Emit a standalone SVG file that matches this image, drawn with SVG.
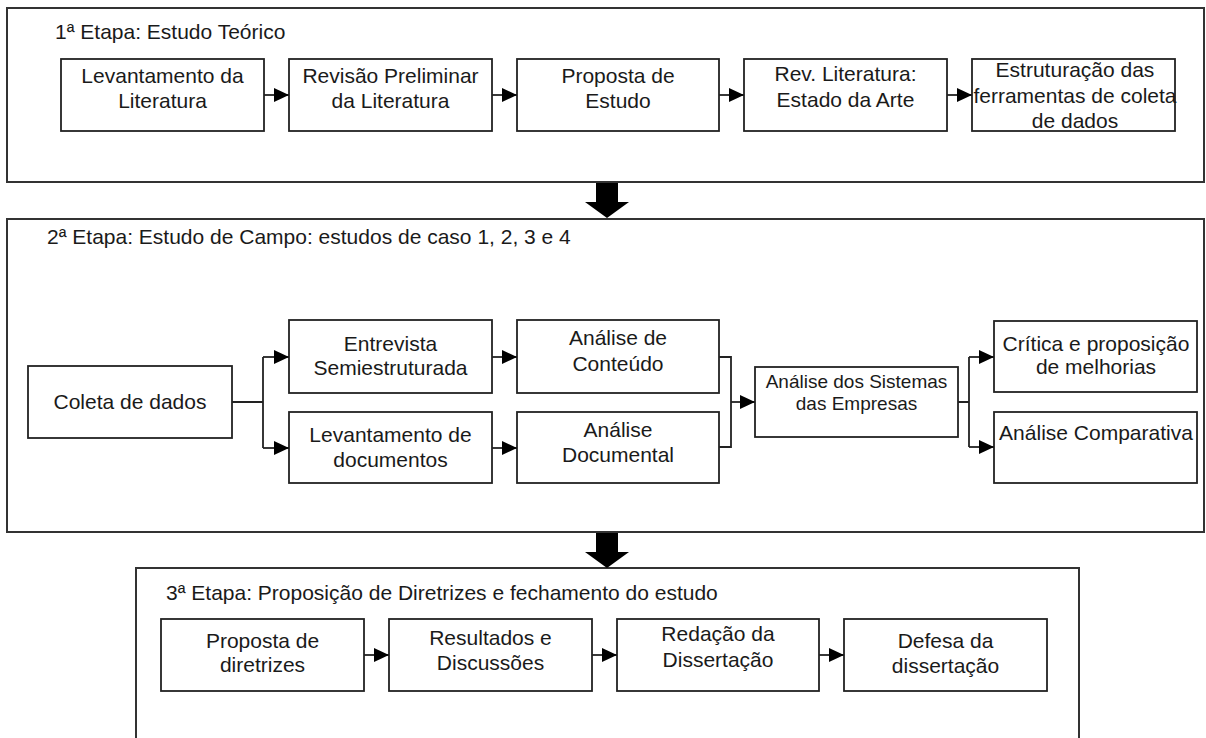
<svg xmlns="http://www.w3.org/2000/svg" width="1206" height="738" viewBox="0 0 1206 738">
<style>
.frame{fill:#fff;stroke:#333;stroke-width:2}
.box{fill:#fff;stroke:#222;stroke-width:1.8}
.t{font-family:"Liberation Sans",Arial,sans-serif;font-size:21px;fill:#1a1a1a;text-anchor:middle}
.ts{font-size:19px}
.title{font-family:"Liberation Sans",Arial,sans-serif;font-size:21px;fill:#1a1a1a}
.ln{fill:none;stroke:#222;stroke-width:1.8}
.arr{fill:none;stroke:#222;stroke-width:1.8;marker-end:url(#ah)}
.big{fill:#000}
</style>
<defs>
<marker id="ah" markerUnits="userSpaceOnUse" markerWidth="16" markerHeight="16" viewBox="0 0 16 16" refX="15" refY="7" orient="auto">
<path d="M0,0 L15,7 L0,14 z" fill="#000"/>
</marker>
</defs>
<rect width="1206" height="738" fill="#fff"/>

<g id="stage1">
<rect class="frame" x="7" y="8" width="1197" height="174"/>
<text class="title" x="55" y="39">1ª Etapa: Estudo Teórico</text>
</g>
<g id="s1n1"><rect class="box" x="61" y="59" width="203" height="72"/><text class="t" x="162.5" y="83">Levantamento da</text><text class="t" x="162.5" y="108">Literatura</text></g>
<g id="s1n2"><rect class="box" x="289" y="59" width="203" height="72"/><text class="t" x="390.5" y="83">Revisão Preliminar</text><text class="t" x="390.5" y="108">da Literatura</text></g>
<g id="s1n3"><rect class="box" x="517" y="59" width="202" height="72"/><text class="t" x="618" y="83">Proposta de</text><text class="t" x="618" y="108">Estudo</text></g>
<g id="s1n4"><rect class="box" x="744" y="59" width="203" height="72"/><text class="t" x="845.5" y="81">Rev. Literatura:</text><text class="t" x="845.5" y="107">Estado da Arte</text></g>
<g id="s1n5"><rect class="box" x="972" y="59" width="203" height="72"/><text class="t" x="1075" y="77">Estruturação das</text><text class="t" x="1075" y="103">ferramentas de coleta</text><text class="t" x="1075" y="128">de dados</text></g>

<g id="stage2">
<rect class="frame" x="7" y="219" width="1197" height="313"/>
<text class="title" x="47" y="244">2ª Etapa: Estudo de Campo: estudos de caso 1, 2, 3 e 4</text>
</g>
<g id="s2coleta"><rect class="box" x="28" y="366" width="204" height="72"/><text class="t" x="130" y="409">Coleta de dados</text></g>
<g id="s2entrevista"><rect class="box" x="289" y="320" width="203" height="73"/><text class="t" x="390.5" y="351">Entrevista</text><text class="t" x="390.5" y="375">Semiestruturada</text></g>
<g id="s2levantamento"><rect class="box" x="289" y="412" width="203" height="71"/><text class="t" x="390.5" y="442">Levantamento de</text><text class="t" x="390.5" y="467">documentos</text></g>
<g id="s2conteudo"><rect class="box" x="517" y="320" width="202" height="73"/><text class="t" x="618" y="345">Análise de</text><text class="t" x="618" y="371">Conteúdo</text></g>
<g id="s2documental"><rect class="box" x="517" y="412" width="202" height="71"/><text class="t" x="618" y="437">Análise</text><text class="t" x="618" y="462">Documental</text></g>
<g id="s2sistemas"><rect class="box" x="755" y="367" width="203" height="70"/><text class="t ts" x="856.5" y="388">Análise dos Sistemas</text><text class="t ts" x="856.5" y="410">das Empresas</text></g>
<g id="s2critica"><rect class="box" x="994" y="321" width="203" height="71"/><text class="t" x="1096" y="351">Crítica e proposição</text><text class="t" x="1096" y="374">de melhorias</text></g>
<g id="s2comparativa"><rect class="box" x="994" y="412" width="203" height="71"/><text class="t" x="1096" y="440">Análise Comparativa</text></g>

<g id="stage3">
<rect class="frame" x="136" y="568" width="943" height="200"/>
<text class="title" x="166" y="600">3ª Etapa: Proposição de Diretrizes e fechamento do estudo</text>
</g>
<g id="s3n1"><rect class="box" x="161" y="619" width="203" height="72"/><text class="t" x="262.5" y="648">Proposta de</text><text class="t" x="262.5" y="672">diretrizes</text></g>
<g id="s3n2"><rect class="box" x="389" y="619" width="203" height="72"/><text class="t" x="490.5" y="645">Resultados e</text><text class="t" x="490.5" y="670">Discussões</text></g>
<g id="s3n3"><rect class="box" x="617" y="619" width="202" height="72"/><text class="t" x="718" y="641">Redação da</text><text class="t" x="718" y="667">Dissertação</text></g>
<g id="s3n4"><rect class="box" x="844" y="619" width="203" height="72"/><text class="t" x="945.5" y="648">Defesa da</text><text class="t" x="945.5" y="673">dissertação</text></g>

<g id="connectors">
<path class="arr" d="M264,95 H289"/>
<path class="arr" d="M492,95 H517"/>
<path class="arr" d="M719,95 H744"/>
<path class="arr" d="M947,95 H972"/>

<path class="ln" d="M232,402 H263 M263,357 V448"/>
<path class="arr" d="M263,357 H289"/>
<path class="arr" d="M263,448 H289"/>
<path class="arr" d="M492,357 H517"/>
<path class="arr" d="M492,448 H517"/>
<path class="ln" d="M719,357 H731 V447 H719"/>
<path class="arr" d="M731,402 H755"/>
<path class="ln" d="M958,402 H969 M969,357 V447"/>
<path class="arr" d="M969,357 H994"/>
<path class="arr" d="M969,447 H994"/>

<path class="arr" d="M364,655 H389"/>
<path class="arr" d="M592,655 H617"/>
<path class="arr" d="M819,655 H844"/>

<path class="big" d="M596,183 H618 V202 H629 L607,218 L585,202 H596 Z"/>
<path class="big" d="M596,533 H618 V552 H629 L607,568 L585,552 H596 Z"/>
</g>
</svg>
